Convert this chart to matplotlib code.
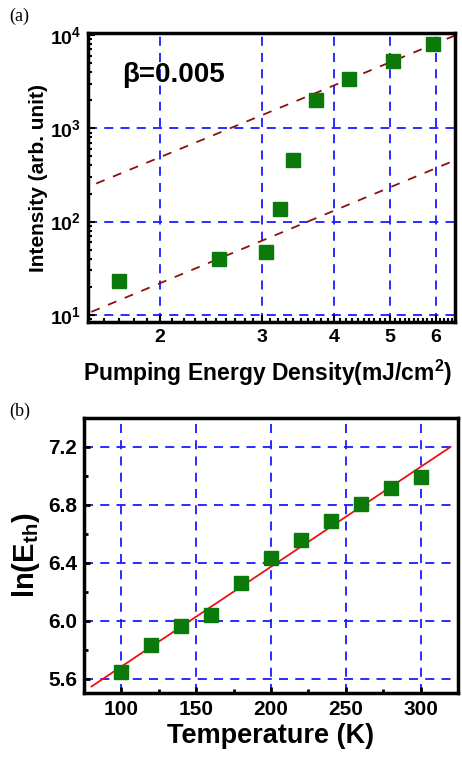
import numpy as np
import matplotlib
matplotlib.use("Agg")
import matplotlib.pyplot as plt
from matplotlib.ticker import FixedLocator, MultipleLocator, LogLocator, NullFormatter

plt.rcParams['font.family'] = ['Liberation Sans', 'DejaVu Sans']
plt.rcParams['font.weight'] = 'bold'
plt.rcParams['mathtext.fontset'] = 'custom'
plt.rcParams['mathtext.rm'] = 'Liberation Sans:bold'
plt.rcParams['mathtext.it'] = 'Liberation Sans:bold'
plt.rcParams['mathtext.bf'] = 'Liberation Sans:bold'

# (a) intensity vs pumping energy density
energy = [1.70, 2.53, 3.05, 3.22, 3.39, 3.73, 4.24, 5.07, 5.94]
intensity = [23, 40, 47.5, 135, 455, 1995, 3345, 5250, 8050]
# dashed fit lines (endpoints)
fit_hi_x = [1.55, 6.48]
fit_hi_y = [256, 9880]
fit_lo_x = [1.52, 6.48]
fit_lo_y = [10.8, 455]
x_ticks_a = [2, 3, 4, 5, 6]
y_ticks_a = [10, 100, 1000, 10000]

# (b) ln(Eth) vs temperature
temp = [100, 120, 140, 160, 180, 200, 220, 240, 260, 280, 300]
ln_eth = [5.642, 5.831, 5.965, 6.041, 6.261, 6.434, 6.554, 6.687, 6.805, 6.914, 6.992]
line_t = [80, 320]
line_y = [5.545, 7.2]
x_ticks_b = [100, 150, 200, 250, 300]
y_ticks_b = [5.6, 6.0, 6.4, 6.8, 7.2]

green = '#0b7a0b'
grid_kw = dict(color='#1a1aff', linestyle=(0, (5, 4)), linewidth=1.3)

fig = plt.figure(figsize=(4.62, 7.57), dpi=100)

# ---- panel (a)
ax1 = fig.add_axes([0.1905, 0.5746, 0.7944, 0.3818])
ax1.set_xscale('log')
ax1.set_yscale('log')
ax1.set_xlim(1.5, 6.48)
ax1.set_ylim(8.4, 10500)
for v in x_ticks_a:
    ax1.axvline(v, **grid_kw, zorder=1)
for v in y_ticks_a[:-1]:
    ax1.axhline(v, **grid_kw, zorder=1)
ax1.plot(fit_hi_x, fit_hi_y, color='#8b1010', linestyle=(0, (5, 5)), linewidth=1.3, zorder=2)
ax1.plot(fit_lo_x, fit_lo_y, color='#8b1010', linestyle=(0, (5, 5)), linewidth=1.3, zorder=2)
ax1.plot(energy, intensity, 's', color=green, markersize=9.5, zorder=3)
ax1.xaxis.set_major_locator(FixedLocator(x_ticks_a))
ax1.xaxis.set_minor_locator(MultipleLocator(0.1))
ax1.xaxis.set_minor_formatter(NullFormatter())
ax1.set_xticklabels([str(v) for v in x_ticks_a])
ax1.yaxis.set_major_locator(FixedLocator(y_ticks_a))
ax1.set_yticklabels([r'$10^{%d}$' % int(np.log10(v)) for v in y_ticks_a])
ax1.yaxis.set_minor_locator(LogLocator(base=10, subs=np.arange(2, 10)))
ax1.yaxis.set_minor_formatter(NullFormatter())
ax1.tick_params(which='both', direction='in', top=False, right=False, labelsize=14, width=1.5)
ax1.tick_params(which='major', length=5, pad=5)
ax1.tick_params(which='minor', length=3)
for s in ax1.spines.values():
    s.set_linewidth(2.5)
ax1.set_ylabel('Intensity (arb. unit)', fontsize=15, fontweight='bold', labelpad=1)
ax1.text(1.72, 3700, 'β=0.005', fontsize=20, fontweight='bold', ha='left', va='center')
fig.text(0.18, 0.508, r'Pumping Energy Density(mJ/cm$^{2}$)', fontsize=16.5,
         fontweight='bold', ha='left', va='center')
fig.text(0.02, 0.978, '(a)', family='Liberation Serif', fontweight='normal', fontsize=13, va='center')

# ---- panel (b)
ax2 = fig.add_axes([0.1818, 0.0845, 0.8095, 0.3633])
ax2.set_xlim(75, 325)
ax2.set_ylim(5.5, 7.4)
for v in x_ticks_b:
    ax2.axvline(v, **grid_kw, zorder=1)
for v in y_ticks_b:
    ax2.axhline(v, **grid_kw, zorder=1)
ax2.plot(line_t, line_y, color='#ee1111', linewidth=1.3, zorder=2)
ax2.plot(temp, ln_eth, 's', color=green, markersize=9.5, zorder=3)
ax2.set_xticks(x_ticks_b)
ax2.set_yticks(y_ticks_b)
ax2.set_yticklabels(['%.1f' % v for v in y_ticks_b])
ax2.xaxis.set_minor_locator(MultipleLocator(25))
ax2.yaxis.set_minor_locator(MultipleLocator(0.2))
ax2.tick_params(which='both', direction='in', top=False, right=False, labelsize=15, width=2)
ax2.tick_params(which='major', length=4, pad=5)
ax2.tick_params(which='minor', length=3)
for s in ax2.spines.values():
    s.set_linewidth(2.5)
ax2.set_ylabel(r'ln(E$_{\mathrm{th}}$)', fontsize=21, fontweight='bold', labelpad=4)
ax2.set_xlabel('Temperature (K)', fontsize=19.5, fontweight='bold', labelpad=3)
fig.text(0.02, 0.456, '(b)', family='Liberation Serif', fontweight='normal', fontsize=13, va='center')

fig.savefig('out.png', dpi=100)
